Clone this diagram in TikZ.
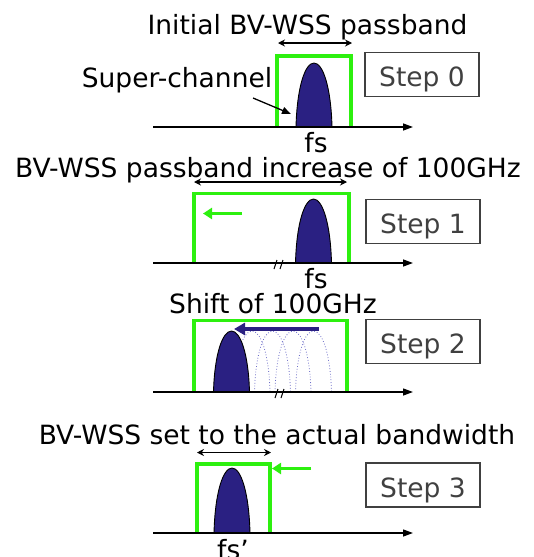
\documentclass[tikz,border=0pt]{standalone}
\usepackage{fontspec}
\setmainfont{DejaVu Sans}
\usetikzlibrary{arrows.meta}
\definecolor{brightgreen}{RGB}{45,240,15}
\definecolor{navy}{RGB}{42,32,130}
\definecolor{dotblue}{RGB}{110,110,200}
\definecolor{stepgray}{RGB}{64,64,64}
\tikzset{
  lbl/.style={font=\fontsize{26.5}{30}\selectfont, inner sep=0pt},
  stepbox/.style={draw=stepgray, line width=1.1pt, minimum width=114pt, minimum height=44pt,
    inner sep=0pt, text height=24pt, text depth=0pt, text=stepgray, font=\fontsize{26.5}{30}\selectfont},
  passband/.style={draw=brightgreen, line width=3.5pt},
  greenarrow/.style={draw=brightgreen, line width=3.5pt, -{Triangle[length=9pt,width=11pt]}},
  widtharrow/.style={line width=1.1pt, {Stealth[length=7pt,width=7pt]}-{Stealth[length=7pt,width=7pt]}},
  freqaxis/.style={line width=1.3pt, -{Triangle[length=10pt,width=7pt]}},
  pointer/.style={line width=1.3pt, -{Triangle[length=9pt,width=7pt]}},
  signal/.style={draw=black, line width=0.9pt, fill=navy},
  ghost/.style={draw=dotblue, dotted, line width=0.8pt},
  breakmark/.style={line width=1pt},
  shiftarrow/.style={draw=navy, line width=4.5pt, -{Triangle[length=11pt,width=12pt]}},
}
% spectral bump: centre x, base y, height, style
\newcommand\sigbump[4]{%
  \path[#4] ({#1-18},#2) .. controls ({#1-17},{#2-0.62*#3}) and ({#1-9},{#2-#3}) .. ({#1},{#2-#3})
    .. controls ({#1+9},{#2-#3}) and ({#1+17},{#2-0.62*#3}) .. ({#1+18},#2);
}
\newcommand\axisbreak[2]{%
  \draw[breakmark] ({#1-5},{#2+6}) -- ({#1-2},{#2-3});
  \draw[breakmark] ({#1+1},{#2+6}) -- ({#1+4},{#2-3});
}
\begin{document}
\begin{tikzpicture}[x=1pt,y=-1pt]
\useasboundingbox (0,0) rectangle (533,557);

% ---------------- Step 0 ----------------
\node[lbl, anchor=base] (t0) at (307.5,34) {Initial BV-WSS passband};
\coordinate (g0a) at (277,127);
\coordinate (g0b) at (351,56);
\draw[passband] (g0a) |- (g0b) -- (351,127);
\sigbump{314}{127}{64}{signal}
\coordinate (ax0s) at (153,127);
\coordinate (ax0e) at (413,127);
\draw[freqaxis] (ax0s) -- (ax0e);
\coordinate (w0a) at (278,43);
\coordinate (w0b) at (352,43);
\draw[widtharrow] (w0a) -- (w0b);
\node[lbl, anchor=base] (sc) at (177,87.3) {Super-channel};
\coordinate (sctip) at (291,114);
\draw[pointer] (253,98) -- (sctip);
\node[lbl, anchor=north] (fs0) at (316,132) {fs};
\node[stepbox] (s0) at (422,74.5) {Step 0};

% ---------------- Step 1 ----------------
\node[lbl, anchor=base] (t1) at (268,177.3) {BV-WSS passband increase of 100GHz};
\coordinate (g1a) at (194,263);
\coordinate (g1b) at (349,193.5);
\draw[passband] (g1a) |- (g1b) -- (349,263);
\sigbump{313.5}{263}{64}{signal}
\coordinate (ax1s) at (153,263);
\coordinate (ax1e) at (413,263);
\draw[freqaxis] (ax1s) -- (ax1e);
\axisbreak{279}{263}
\coordinate (w1a) at (194,182);
\coordinate (w1b) at (347,182);
\draw[widtharrow] (w1a) -- (w1b);
\coordinate (ga1s) at (242,213.5);
\coordinate (ga1e) at (203,213.5);
\draw[greenarrow] (ga1s) -- (ga1e);
\node[lbl, anchor=north] (fs1) at (316,268) {fs};
\node[stepbox] (s1) at (423,221.5) {Step 1};

% ---------------- Step 2 ----------------
\node[lbl, anchor=base] (t2) at (273,313.2) {Shift of 100GHz};
\coordinate (g2a) at (194,392);
\coordinate (g2b) at (347,320.5);
\draw[passband] (g2a) |- (g2b) -- (347,392);
\sigbump{313.5}{392}{61}{ghost}
\sigbump{293}{392}{61}{ghost}
\sigbump{272.5}{392}{61}{ghost}
\sigbump{252}{392}{61}{ghost}
\sigbump{231.5}{392}{61}{signal}
\coordinate (ax2s) at (153,392);
\coordinate (ax2e) at (413,392);
\draw[freqaxis] (ax2s) -- (ax2e);
\axisbreak{280}{392}
\coordinate (sh2s) at (319,329);
\coordinate (sh2e) at (234,329);
\draw[shiftarrow] (sh2s) -- (sh2e);
\node[stepbox] (s2) at (423,341.5) {Step 2};

% ---------------- Step 3 ----------------
\node[lbl, anchor=base] (t3) at (277,444) {BV-WSS set to the actual bandwidth};
\coordinate (g3a) at (197,533);
\coordinate (g3b) at (270,464);
\draw[passband] (g3a) |- (g3b) -- (270,533);
\sigbump{232}{533}{65}{signal}
\coordinate (ax3s) at (153,533);
\coordinate (ax3e) at (413,533);
\draw[freqaxis] (ax3s) -- (ax3e);
\coordinate (w3a) at (197,452.5);
\coordinate (w3b) at (271,452.5);
\draw[widtharrow] (w3a) -- (w3b);
\coordinate (ga3s) at (311,468.5);
\coordinate (ga3e) at (272,468.5);
\draw[greenarrow] (ga3s) -- (ga3e);
\node[lbl, anchor=north] (fs3) at (233,539) {fs’};
\node[stepbox] (s3) at (423,485) {Step 3};
\end{tikzpicture}
\end{document}
